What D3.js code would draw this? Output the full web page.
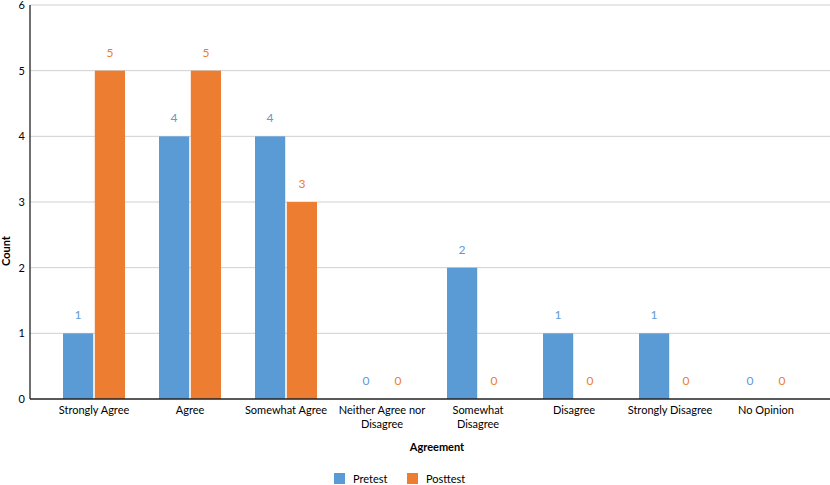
<!DOCTYPE html>
<html>
<head>
<meta charset="utf-8">
<script src="https://cdn.jsdelivr.net/npm/d3@7"></script>
<style>
  body { margin: 0; background: #fff; }
  svg { font-family: Lato, "Open Sans", sans-serif; }
</style>
</head>
<body>
<svg id="chart" width="830" height="485"></svg>
<script>
// categories and series
var categories = ["Strongly Agree", "Agree", "Somewhat Agree", "Neither Agree nor Disagree",
                  "Somewhat Disagree", "Disagree", "Strongly Disagree", "No Opinion"];
var categoryLines = [["Strongly Agree"], ["Agree"], ["Somewhat Agree"], ["Neither Agree nor", "Disagree"],
                     ["Somewhat", "Disagree"], ["Disagree"], ["Strongly Disagree"], ["No Opinion"]];
var seriesNames = ["Pretest", "Posttest"];
var pretest = [1, 4, 4, 0, 2, 1, 1, 0];
var posttest = [5, 5, 3, 0, 0, 0, 0, 0];
var yTicks = [0, 1, 2, 3, 4, 5, 6];

var colors = {Pretest: "#5b9bd5", Posttest: "#ed7d31"};

var svg = d3.select("#chart");
var plotLeft = 30, plotRight = 830, plotTop = 5, plotBottom = 399;

var x = d3.scaleBand().domain(categories).range([46, 814]);
var inner = d3.scaleBand().domain(seriesNames).range([17, 79]).paddingInner(0.05);
var y = d3.scaleLinear().domain([0, 6]).range([plotBottom, plotTop]);

// gridlines
svg.append("g").selectAll("line")
  .data(yTicks.filter(d => d > 0))
  .enter().append("line")
  .attr("x1", plotLeft).attr("x2", plotRight)
  .attr("y1", d => y(d)).attr("y2", d => y(d))
  .attr("stroke", "#d0d0d0").attr("stroke-width", 1);

// y tick labels
svg.append("g").selectAll("text")
  .data(yTicks)
  .enter().append("text")
  .attr("x", 25).attr("y", d => y(d) + 4)
  .attr("text-anchor", "end")
  .attr("font-size", 11)
  .attr("fill", "#000")
  .text(d => d);

var rows = categories.map((c, i) => ({cat: c, Pretest: pretest[i], Posttest: posttest[i]}));

var groups = svg.append("g").selectAll("g")
  .data(rows)
  .enter().append("g")
  .attr("transform", d => "translate(" + x(d.cat) + ",0)");

groups.selectAll("rect")
  .data(d => seriesNames.map(s => ({s: s, v: d[s]})))
  .enter().append("rect")
  .attr("x", d => inner(d.s))
  .attr("width", inner.bandwidth())
  .attr("y", d => y(d.v))
  .attr("height", d => y(0) - y(d.v))
  .attr("fill", d => colors[d.s]);

// value labels
groups.selectAll("text")
  .data(d => seriesNames.map(s => ({s: s, v: d[s]})))
  .enter().append("text")
  .attr("x", d => inner(d.s) + inner.bandwidth() / 2)
  .attr("y", d => y(d.v) - 14)
  .attr("text-anchor", "middle")
  .attr("font-size", 12)
  .attr("fill", d => colors[d.s])
  .text(d => d.v);

// axis lines
svg.append("line")
  .attr("x1", plotLeft).attr("x2", plotRight)
  .attr("y1", plotBottom).attr("y2", plotBottom)
  .attr("stroke", "#222").attr("stroke-width", 1.3);
svg.append("line")
  .attr("x1", plotLeft).attr("x2", plotLeft)
  .attr("y1", plotTop).attr("y2", plotBottom)
  .attr("stroke", "#222").attr("stroke-width", 1.3);

// category labels
var catLabels = svg.append("g").selectAll("text")
  .data(categories)
  .enter().append("text")
  .attr("x", d => x(d) + x.bandwidth() / 2)
  .attr("y", 414)
  .attr("text-anchor", "middle")
  .attr("font-size", 11)
  .attr("fill", "#000");
catLabels.selectAll("tspan")
  .data((d, i) => categoryLines[i])
  .enter().append("tspan")
  .attr("x", function() { return d3.select(this.parentNode).attr("x"); })
  .attr("dy", (d, i) => i === 0 ? 0 : 14)
  .text(d => d);

// axis titles
svg.append("text")
  .attr("x", 437).attr("y", 451)
  .attr("text-anchor", "middle")
  .attr("font-size", 11).attr("font-weight", "bold")
  .text("Agreement");
svg.append("text")
  .attr("transform", "translate(10,251) rotate(-90)")
  .attr("text-anchor", "middle")
  .attr("font-size", 11).attr("font-weight", "bold")
  .text("Count");

// legend
var legendX = [334, 407];
var legend = svg.append("g").selectAll("g")
  .data(seriesNames)
  .enter().append("g")
  .attr("transform", (d, i) => "translate(" + legendX[i] + ",473)");
legend.append("rect")
  .attr("width", 11).attr("height", 11)
  .attr("fill", d => colors[d]);
legend.append("text")
  .attr("x", 19).attr("y", 9.5)
  .attr("font-size", 11)
  .text(d => d);
</script>
</body>
</html>
